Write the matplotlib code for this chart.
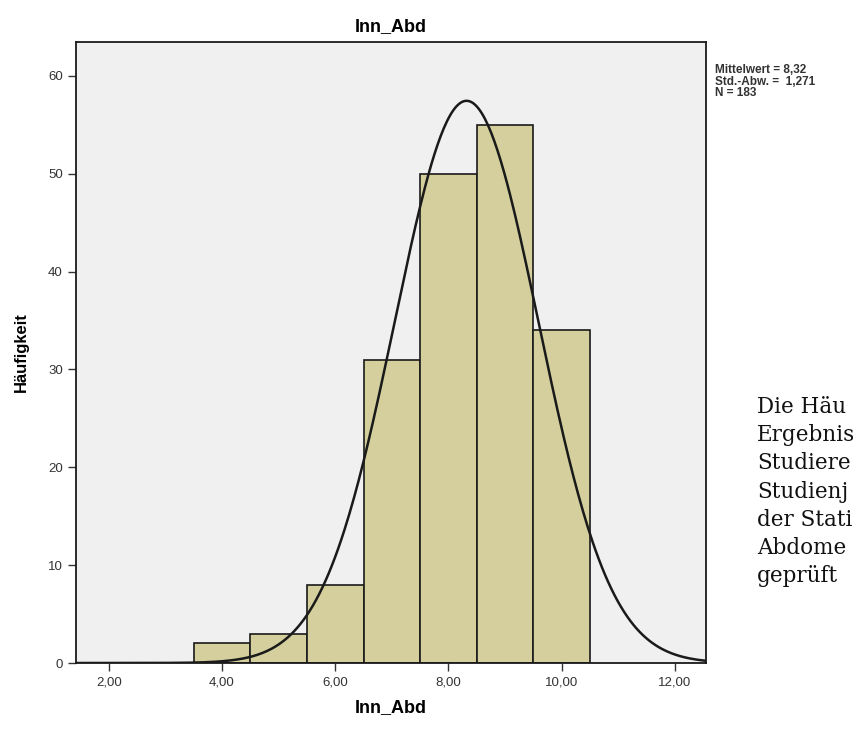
import matplotlib
matplotlib.use("Agg")
import matplotlib.pyplot as plt
import numpy as np

# histogram of Inn_Abd (SPSS style)
bin_edges = [3.5, 4.5, 5.5, 6.5, 7.5, 8.5, 9.5, 10.5]
counts = [2, 3, 8, 31, 50, 55, 34]
mean = 8.32
sd = 1.271
n = 183
x_ticks = [2, 4, 6, 8, 10, 12]
y_ticks = [0, 10, 20, 30, 40, 50, 60]
# running text beside the chart, cut off at the page edge as in the source
side_lines = ["Die Häu", "Ergebnis", "Studiere", "Studienj",
              "der Stati", "Abdome", "geprüft"]


def de(v, d):
    return f"{v:.{d}f}".replace(".", ",")


plt.rcParams["font.family"] = ["Liberation Sans", "DejaVu Sans"]

fig = plt.figure(figsize=(8.54, 7.38), dpi=100)
ax = fig.add_axes([76 / 854, 1 - 663 / 738, 630 / 854, 621 / 738])
ax.set_facecolor("#f0f0f0")

widths = np.diff(bin_edges)
ax.bar(bin_edges[:-1], counts, width=widths, align="edge", color="#d4cf9c",
       edgecolor="#1a1a1a", linewidth=1.2, zorder=2)

x0, x1 = 1.42, 12.55
xs = np.linspace(x0, x1, 400)
ys = n * 1.0 / (sd * np.sqrt(2 * np.pi)) * np.exp(-0.5 * ((xs - mean) / sd) ** 2)
ax.plot(xs, ys, color="#1a1a1a", lw=1.8, zorder=3)

ax.set_xlim(x0, x1)
ax.set_ylim(0, 63.45)
ax.set_xticks(x_ticks)
ax.set_xticklabels([de(v, 2) for v in x_ticks])
ax.set_yticks(y_ticks)
ax.tick_params(direction="out", length=6, width=1, colors="#333333",
               labelsize=9.5, labelcolor="#333333")
for s in ax.spines.values():
    s.set_color("#1a1a1a")
    s.set_linewidth(1.3)

ax.set_title("Inn_Abd", fontsize=13, fontweight="bold", pad=8)
ax.set_xlabel("Inn_Abd", fontsize=13, fontweight="bold", labelpad=8)
ax.set_ylabel("Häufigkeit", fontsize=12, fontweight="bold", labelpad=14)

fig.text(715 / 854, 1 - 64 / 738,
         f"Mittelwert = {de(mean, 2)}\nStd.-Abw. =  {de(sd, 3)}\nN = {n}",
         fontsize=8.5, fontweight="bold", color="#333333", va="top",
         linespacing=0.95)

for i, line in enumerate(side_lines):
    fig.text(757 / 854, 1 - (413 + i * 28.2) / 738, line,
             family=["DejaVu Serif"], fontsize=15.5,
             color="#111111", va="baseline")

fig.savefig("out.png", dpi=100)
